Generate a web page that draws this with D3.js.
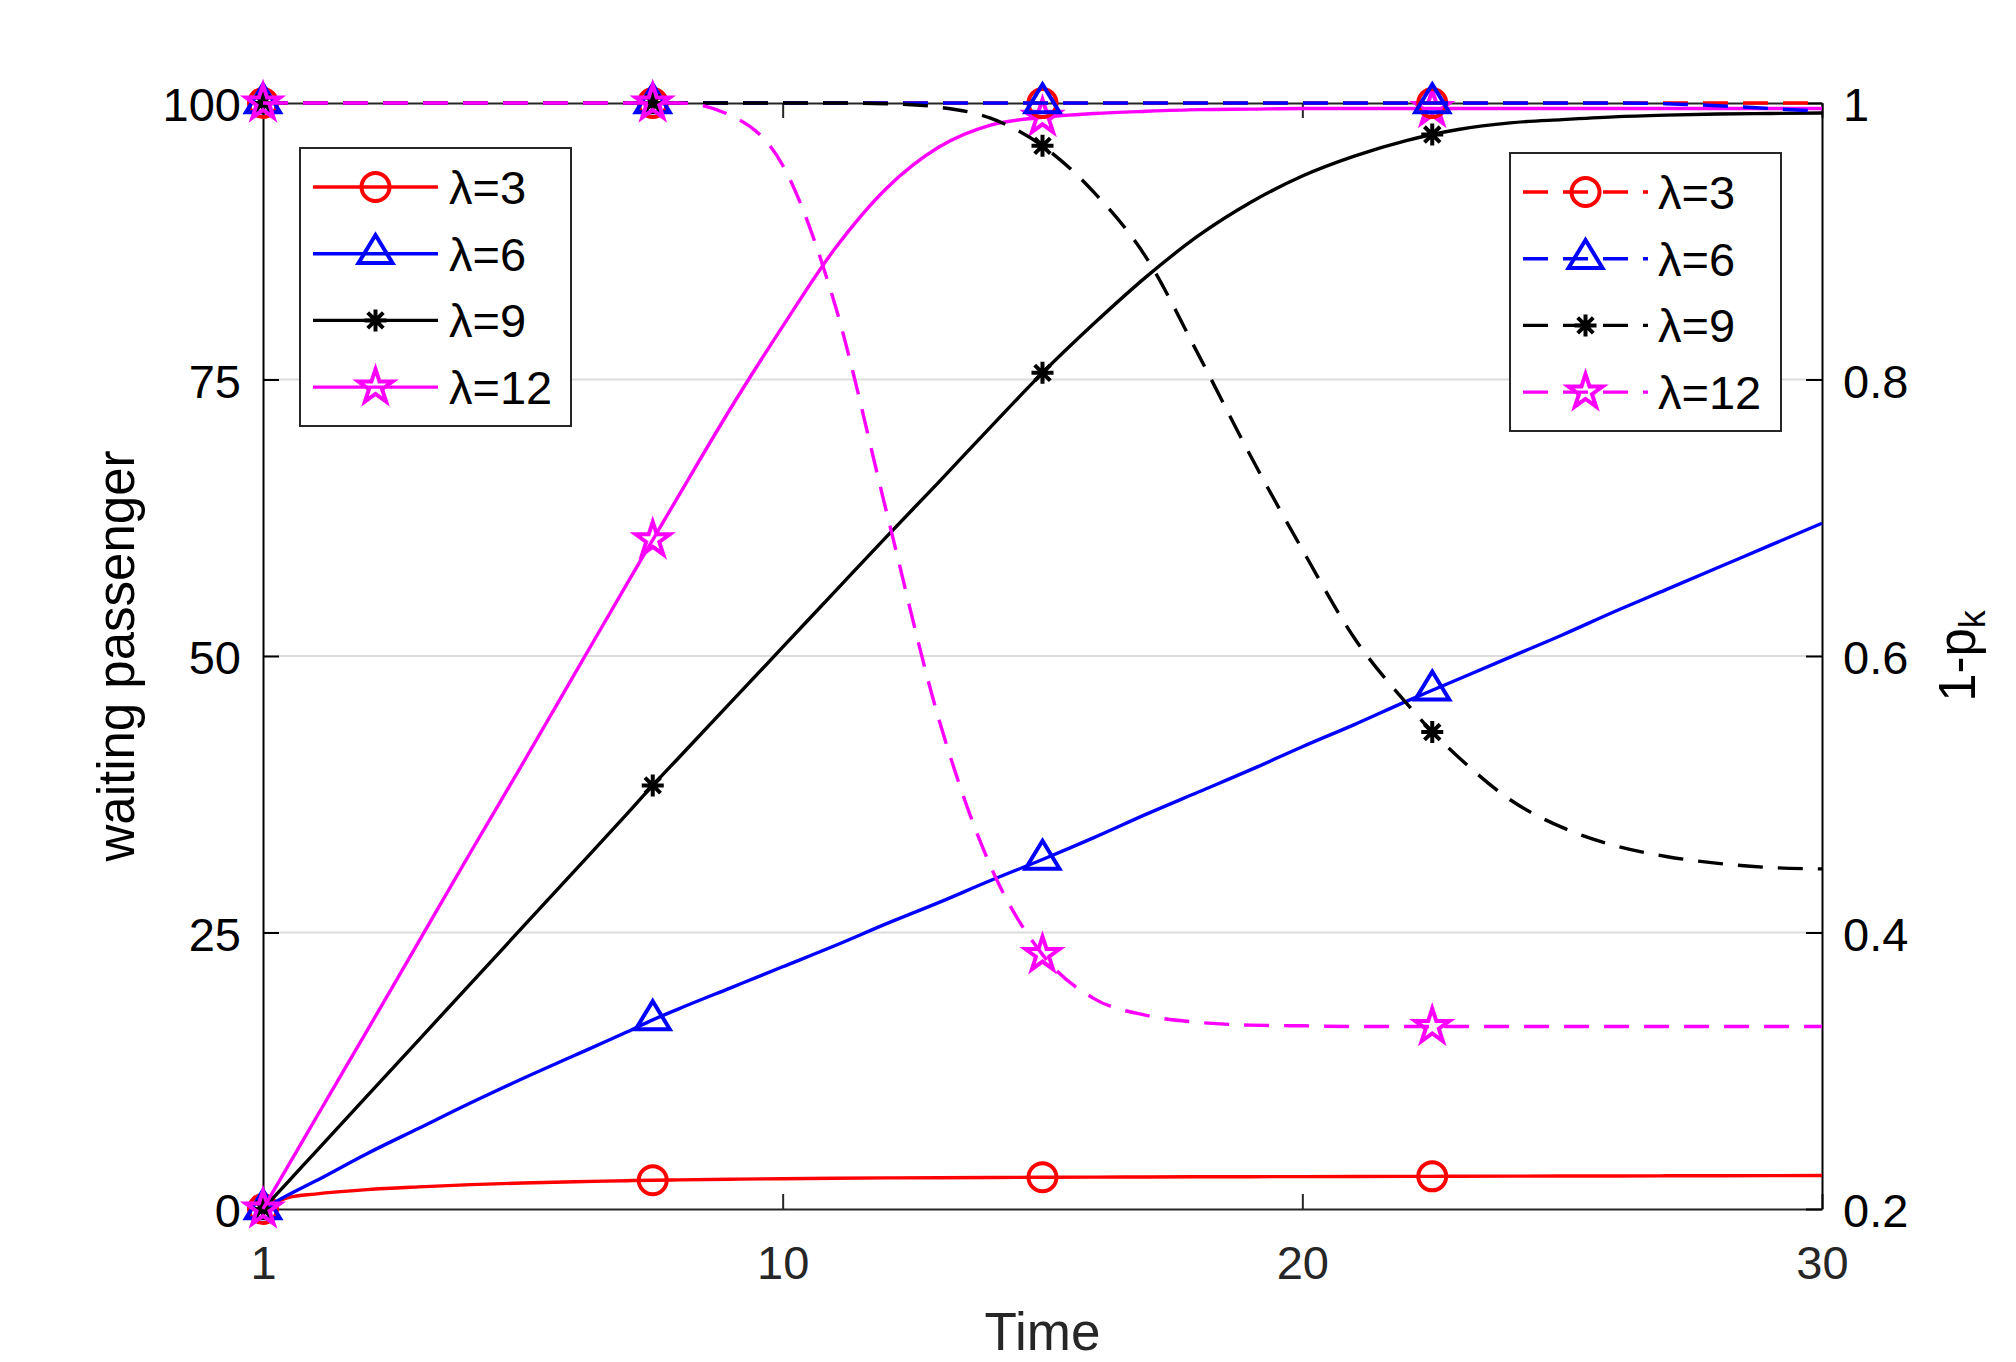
<!DOCTYPE html>
<html>
<head>
<meta charset="utf-8">
<script src="https://cdn.jsdelivr.net/npm/d3@7"></script>
<style>
  body { margin: 0; background: #fff; }
  svg { display: block; }
</style>
</head>
<body>
<div id="chart"></div>
<script>
// time axis (the first tick is labelled "1")
const time = [0, 0.5, 1, 2, 3, 4, 5, 6, 7, 7.5, 8, 9, 10, 11, 12, 13, 14, 15, 16, 17, 18, 19, 20, 21, 22, 22.5, 23, 24, 25, 26, 27, 28, 29, 30];

// waiting passenger (left axis, solid lines)
const waitL3  = [0, 1.05, 1.35, 1.75, 2.0, 2.2, 2.35, 2.47, 2.56, 2.6, 2.63, 2.69, 2.74, 2.78, 2.81, 2.83, 2.85, 2.87, 2.88, 2.9, 2.91, 2.92, 2.93, 2.94, 2.95, 2.95, 2.96, 2.97, 2.98, 2.99, 3.0, 3.01, 3.02, 3.03];
const waitL6  = [0, 1.3, 2.5, 5.0, 7.3, 9.6, 11.8, 13.9, 16.0, 17.1, 18.1, 20.0, 21.9, 23.8, 25.8, 27.7, 29.7, 31.6, 33.6, 35.7, 37.7, 39.7, 41.8, 43.8, 45.9, 46.9, 47.9, 49.9, 51.9, 54.0, 56.0, 58.0, 60.0, 62.0];
const waitL9  = [0, 2.55, 5.1, 10.2, 15.3, 20.4, 25.5, 30.6, 35.7, 38.3, 40.8, 45.8, 50.8, 55.8, 60.8, 65.7, 70.7, 75.6, 80.1, 84.3, 88.0, 91.0, 93.4, 95.2, 96.6, 97.15, 97.6, 98.2, 98.5, 98.75, 98.9, 99.0, 99.05, 99.1];
const waitL12 = [0, 4.03, 8.07, 16.1, 24.2, 32.3, 40.3, 48.4, 56.5, 60.5, 64.5, 72.4, 79.8, 86.8, 92.3, 96.0, 98.0, 98.7, 99.05, 99.25, 99.4, 99.45, 99.5, 99.5, 99.5, 99.5, 99.5, 99.5, 99.5, 99.5, 99.5, 99.5, 99.5, 99.5];

// 1-p_k (right axis, dashed lines)
const probL3  = [1, 1, 1, 1, 1, 1, 1, 1, 1, 1, 1, 1, 1, 1, 1, 1, 1, 1, 1, 1, 1, 1, 1, 1, 1, 1, 1, 1, 1, 1, 1, 1, 1, 1];
const probL6  = [1, 1, 1, 1, 1, 1, 1, 1, 1, 1, 1, 1, 1, 1, 1, 1, 1, 1, 1, 1, 1, 1, 1, 1, 1, 1, 1, 1, 1, 1, 0.9995, 0.998, 0.996, 0.994];
const probL9  = [1, 1, 1, 1, 1, 1, 1, 1, 1, 1, 1, 1, 1, 1, 0.9995, 0.997, 0.989, 0.969, 0.935, 0.888, 0.818, 0.745, 0.677, 0.613, 0.566, 0.545, 0.527, 0.496, 0.476, 0.463, 0.455, 0.450, 0.447, 0.446];
const probL12 = [1, 1, 1, 1, 1, 1, 1, 1, 1, 1, 1, 0.991, 0.955, 0.855, 0.704, 0.555, 0.448, 0.384, 0.352, 0.340, 0.335, 0.333, 0.3325, 0.332, 0.332, 0.332, 0.332, 0.332, 0.332, 0.332, 0.332, 0.332, 0.332, 0.332];

const seriesNames = ["λ=3", "λ=6", "λ=9", "λ=12"];
const markerTimes = [0, 7.5, 15, 22.5];

const xTicks = [0, 10, 20, 30];
const xTickLabels = ["1", "10", "20", "30"];
const leftTicks = [0, 25, 50, 75, 100];
const rightTicks = [0.2, 0.4, 0.6, 0.8, 1];

const colors = ["#ff0000", "#0000ff", "#000000", "#ff00ff"];
const symbols = ["circle", "triangle", "asterisk", "star"];

const W = 2016, H = 1362;
const plotL = 263, plotR = 1822, plotT = 103, plotB = 1209;
const FONT = "'Liberation Sans', Arial, Helvetica, sans-serif";
const LW = 3.4;
const MW = 4;

const svg = d3.select("#chart").append("svg")
  .attr("width", W).attr("height", H);

const x = d3.scaleLinear().domain([0, 30]).range([plotL, plotR]);
const yL = d3.scaleLinear().domain([0, 100]).range([plotB, plotT]);
const yR = d3.scaleLinear().domain([0.2, 1]).range([plotB, plotT]);

// marker shapes
function markerPath(kind) {
  if (kind === "circle") return d3.arc()({ innerRadius: 0, outerRadius: 14, startAngle: 0, endAngle: 2 * Math.PI });
  if (kind === "triangle") return "M0,-18.7L17,9.3L-17,9.3Z";
  if (kind === "asterisk") {
    const a = 11, b = 7.8;
    return `M0,${-a}V${a}M${-a},0H${a}M${-b},${-b}L${b},${b}M${-b},${b}L${b},${-b}`;
  }
  // pentagram
  const R = 18, r = 6.9;
  const pts = d3.range(10).map(i => {
    const ang = -Math.PI / 2 + i * Math.PI / 5;
    const rad = i % 2 === 0 ? R : r;
    return [rad * Math.cos(ang), rad * Math.sin(ang)];
  });
  return "M" + pts.map(p => p.join(",")).join("L") + "Z";
}

// grid
svg.append("g").selectAll("line")
  .data(leftTicks.filter(d => d > 0 && d < 100))
  .enter().append("line")
  .attr("x1", plotL).attr("x2", plotR)
  .attr("y1", d => yL(d)).attr("y2", d => yL(d))
  .attr("stroke", "#dcdcdc").attr("stroke-width", 2);

function styleAxis(g, color) {
  g.attr("font-family", FONT).attr("font-size", 47);
  g.select(".domain").attr("stroke", color).attr("stroke-width", 2);
  g.selectAll(".tick line").attr("stroke", color).attr("stroke-width", 2);
  g.selectAll(".tick text").attr("fill", color);
}

// axes
svg.append("g")
  .attr("transform", `translate(0,${plotB})`)
  .call(d3.axisBottom(x).tickValues(xTicks).tickFormat((d, i) => xTickLabels[i])
    .tickSizeInner(-15).tickSizeOuter(0).tickPadding(37))
  .call(g => styleAxis(g, "#262626"));

svg.append("g")
  .attr("transform", `translate(0,${plotT})`)
  .call(d3.axisTop(x).tickValues(xTicks).tickFormat("")
    .tickSizeInner(-15).tickSizeOuter(0))
  .call(g => styleAxis(g, "#262626"));

svg.append("g")
  .attr("transform", `translate(${plotL},0)`)
  .call(d3.axisLeft(yL).tickValues(leftTicks)
    .tickSizeInner(-16).tickSizeOuter(0).tickPadding(22))
  .call(g => styleAxis(g, "#000"))
  .call(g => g.selectAll(".tick text").attr("dy", "0.38em"));

svg.append("g")
  .attr("transform", `translate(${plotR},0)`)
  .call(d3.axisRight(yR).tickValues(rightTicks).tickFormat(d => d === 1 ? "1" : d3.format(".1f")(d))
    .tickSizeInner(-16).tickSizeOuter(0).tickPadding(21))
  .call(g => styleAxis(g, "#000"))
  .call(g => g.selectAll(".tick text").attr("dy", "0.38em"));

// axis labels
svg.append("text")
  .attr("x", (plotL + plotR) / 2).attr("y", 1350)
  .attr("text-anchor", "middle")
  .attr("font-family", FONT).attr("font-size", 53).attr("fill", "#262626")
  .text("Time");

svg.append("text")
  .attr("transform", `translate(134,${(plotT + plotB) / 2}) rotate(-90)`)
  .attr("text-anchor", "middle")
  .attr("font-family", FONT).attr("font-size", 51).attr("fill", "#000")
  .text("waiting passenger");

const rLabel = svg.append("text")
  .attr("transform", `translate(1975,${(plotT + plotB) / 2}) rotate(-90)`)
  .attr("text-anchor", "middle")
  .attr("font-family", FONT).attr("font-size", 51).attr("fill", "#000");
rLabel.append("tspan").text("1-p");
rLabel.append("tspan").attr("font-size", 36).attr("dy", 10).text("k");

// lines
const waitSeries = [waitL3, waitL6, waitL9, waitL12];
const probSeries = [probL3, probL6, probL9, probL12];
const markerIdx = markerTimes.map(t => time.indexOf(t));

function drawSeries(values, yScale, i, dashed) {
  const pts = time.map((t, k) => [t, values[k]]);
  const line = d3.line().x(d => x(d[0])).y(d => yScale(d[1])).curve(d3.curveMonotoneX);
  svg.append("path")
    .datum(pts)
    .attr("d", line)
    .attr("fill", "none")
    .attr("stroke", colors[i])
    .attr("stroke-width", LW)
    .attr("stroke-dasharray", dashed ? "25,15" : null);
  svg.append("g").selectAll("path")
    .data(markerIdx.map(k => pts[k]))
    .enter().append("path")
    .attr("transform", d => `translate(${x(d[0])},${yScale(d[1])})`)
    .attr("d", markerPath(symbols[i]))
    .attr("fill", "none")
    .attr("stroke", colors[i])
    .attr("stroke-width", MW);
}

waitSeries.forEach((v, i) => drawSeries(v, yL, i, false));
probSeries.forEach((v, i) => drawSeries(v, yR, i, true));

// legends
function drawLegend(box, lineX0, lineX1, textX, rowY0, dashed) {
  const g = svg.append("g");
  g.append("rect")
    .attr("x", box[0]).attr("y", box[1])
    .attr("width", box[2] - box[0]).attr("height", box[3] - box[1])
    .attr("fill", "#fff").attr("stroke", "#262626").attr("stroke-width", 2);
  seriesNames.forEach((name, i) => {
    const yy = rowY0 + i * 66.7;
    g.append("line")
      .attr("x1", lineX0).attr("x2", lineX1).attr("y1", yy).attr("y2", yy)
      .attr("stroke", colors[i]).attr("stroke-width", LW)
      .attr("stroke-dasharray", dashed ? "25,15" : null);
    g.append("path")
      .attr("transform", `translate(${(lineX0 + lineX1) / 2},${yy})`)
      .attr("d", markerPath(symbols[i]))
      .attr("fill", "none").attr("stroke", colors[i]).attr("stroke-width", MW);
    g.append("text")
      .attr("x", textX).attr("y", yy).attr("dy", "0.36em")
      .attr("font-family", FONT).attr("font-size", 47).attr("fill", "#000")
      .text(name);
  });
}

drawLegend([300, 148, 571, 426], 313, 438, 449, 187, false);
drawLegend([1510, 153, 1781, 431], 1523, 1648, 1658, 192, true);
</script>
</body>
</html>
